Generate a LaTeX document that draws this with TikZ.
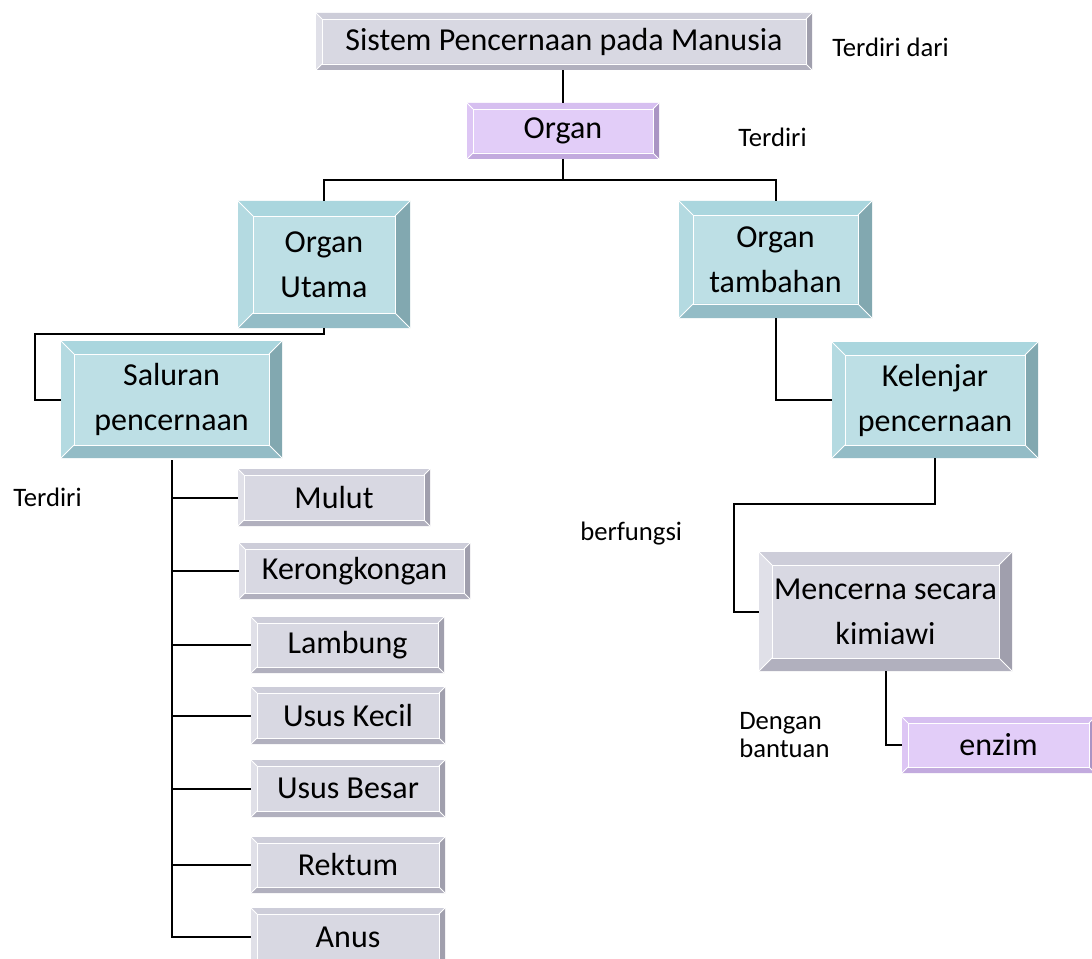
\documentclass[tikz,border=0pt]{standalone}
\usepackage{fontspec}
\setmainfont{Carlito}
\definecolor{grayface}{HTML}{D8D8E2}
\definecolor{graytop}{HTML}{CDCDD9}
\definecolor{grayleft}{HTML}{E0E0E8}
\definecolor{grayright}{HTML}{A09FAD}
\definecolor{graybottom}{HTML}{B1B0BE}
\definecolor{blueface}{HTML}{BDDFE5}
\definecolor{bluetop}{HTML}{AAD6DE}
\definecolor{blueleft}{HTML}{B4DAE1}
\definecolor{blueright}{HTML}{82A8B0}
\definecolor{bluebottom}{HTML}{93BCC6}
\definecolor{purpleface}{HTML}{E2CDF8}
\definecolor{purpletop}{HTML}{D6BFF0}
\definecolor{purpleleft}{HTML}{DDC6F4}
\definecolor{purpleright}{HTML}{AA94C4}
\definecolor{purplebottom}{HTML}{C2AADE}
\tikzset{
  bigtext/.style={font=\fontsize{24pt}{33.75pt}\selectfont},
  smalltext/.style={font=\fontsize{20pt}{21pt}\selectfont, inner sep=0pt},
  conn/.style={draw=black, line width=1.5pt},
  bevline/.style={draw=white, line width=0.6pt},
}
% #1 name, #2 x1, #3 y1, #4 x2, #5 y2, #6 bevel, #7 colour set, #8 text
\newcommand\bevbox[8]{%
  \fill[#7face] (#2,#3) rectangle (#4,#5);
  \fill[#7top] (#2,#3) -- (#4,#3) -- (#4-#6,#3+#6) -- (#2+#6,#3+#6) -- cycle;
  \fill[#7left] (#2,#3) -- (#2+#6,#3+#6) -- (#2+#6,#5-#6) -- (#2,#5) -- cycle;
  \fill[#7right] (#4,#3) -- (#4,#5) -- (#4-#6,#5-#6) -- (#4-#6,#3+#6) -- cycle;
  \fill[#7bottom] (#2,#5) -- (#2+#6,#5-#6) -- (#4-#6,#5-#6) -- (#4,#5) -- cycle;
  \draw[bevline] (#2+#6,#3+#6) rectangle (#4-#6,#5-#6);
  \draw[bevline] (#2,#3) -- (#2+#6,#3+#6) (#4,#3) -- (#4-#6,#3+#6)
                 (#2,#5) -- (#2+#6,#5-#6) (#4,#5) -- (#4-#6,#5-#6);
  \node[inner sep=0pt, outer sep=0pt, align=center, bigtext,
        minimum width={(#4-#2)*0.75pt}, minimum height={(#5-#3)*0.75pt}]
        (#1) at ({(#2+#4)/2},{(#3+#5)/2}) {#8};
}
\begin{document}
\begin{tikzpicture}[x=0.75pt, y=-0.75pt]
\useasboundingbox (0,0) rectangle (1092,959);
\clip (0,0) rectangle (1092,959);
\fill[white] (0,0) rectangle (1092,959);

\bevbox{sis}{316}{13}{812}{70}{6}{gray}{Sistem Pencernaan pada Manusia}
\bevbox{org}{467}{103}{659}{159}{6}{purple}{Organ}
\bevbox{utm}{238}{201}{410}{328}{15}{blue}{Organ\\Utama}
\bevbox{tmb}{679}{201}{872}{318}{14}{blue}{Organ\\tambahan}
\bevbox{sal}{61}{341}{282}{458}{13}{blue}{Saluran\\pencernaan}
\bevbox{kel}{832}{342}{1038}{458}{13}{blue}{Kelenjar\\pencernaan}
\bevbox{men}{759}{552}{1012}{671}{13}{gray}{Mencerna secara\\kimiawi}
\bevbox{enz}{902}{717}{1095}{773}{6}{purple}{enzim}

\bevbox{mul}{238}{469}{430}{526}{6}{gray}{Mulut}
\bevbox{ker}{239}{543}{470}{599}{6}{gray}{Kerongkongan}
\bevbox{lam}{251}{617}{444}{673}{6}{gray}{Lambung}
\bevbox{kec}{251}{687}{445}{744}{6}{gray}{Usus Kecil}
\bevbox{bes}{251}{760}{445}{817}{6}{gray}{Usus Besar}
\bevbox{rek}{251}{837}{445}{893}{6}{gray}{Rektum}
\bevbox{anu}{251}{908}{445}{966}{6}{gray}{Anus}

% labels
\node[smalltext, anchor=base west] (l1) at (832,57) {Terdiri dari};
\node[smalltext, anchor=base west] (l2) at (738,147) {Terdiri};
\node[smalltext, anchor=base west] (l3) at (13,506) {Terdiri};
\node[smalltext, anchor=base west] (l4) at (580,540) {berfungsi};
\node[smalltext, anchor=base west] (l5) at (739,729) {Dengan};
\node[smalltext, anchor=base west] (l6) at (739,757) {bantuan};

% connectors
\coordinate (jA) at (563,180);
\coordinate (jB) at (35,334);
\coordinate (jC) at (734,504);
\coordinate (tr) at (172,460);
\draw[conn] (org.north) -- (org.north |- sis.south);
\draw[conn] (org.south) -- (jA);
\draw[conn] (utm.north) |- (jA) -| (tmb.north);
\draw[conn] (utm.south) |- (jB) |- (sal.west);
\draw[conn] (tmb.south) |- (kel.west);
\draw[conn] (kel.south) |- (jC) |- (men.west);
\draw[conn] (men.south) |- (enz.west);
\draw[conn] (tr) |- (anu.west);
\draw[conn] (tr |- mul.west) -- (mul.west);
\draw[conn] (tr |- ker.west) -- (ker.west);
\draw[conn] (tr |- lam.west) -- (lam.west);
\draw[conn] (tr |- kec.west) -- (kec.west);
\draw[conn] (tr |- bes.west) -- (bes.west);
\draw[conn] (tr |- rek.west) -- (rek.west);
\end{tikzpicture}
\end{document}
